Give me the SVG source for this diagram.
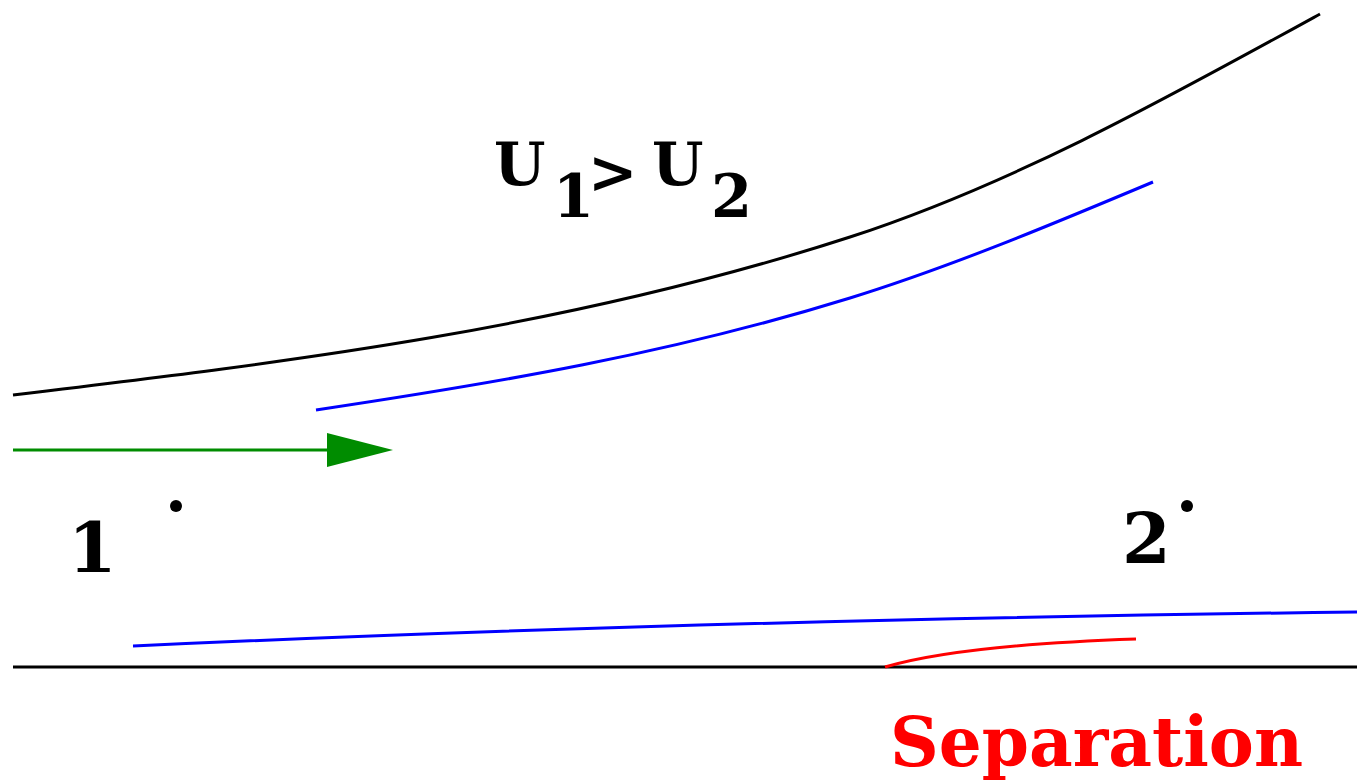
<svg xmlns="http://www.w3.org/2000/svg" width="1357" height="782" viewBox="0 0 1357 782">
<style>
.lbl{font-family:"DejaVu Serif","Liberation Serif",serif;font-weight:bold;fill:#000}
.ln{fill:none;stroke-width:3}
</style>
<defs>
<marker id="ah" markerUnits="userSpaceOnUse" markerWidth="70" markerHeight="40" refX="53" refY="17" orient="auto">
<path d="M0,0 L66,17 L0,34 Z" fill="#008c00"/>
</marker>
</defs>
<rect width="1357" height="782" fill="#fff"/>
<g id="connectors">
<path id="wall-top" class="ln" stroke="#000" d="M13,395 C293,361.4 570,328 850,237 C1010,185 1160,102 1320,14"/>
<path id="bl-top" class="ln" stroke="#0000ff" d="M316,410 C496,383 670,353.8 850,298 C950,267 1053,224 1153,182"/>
<path id="wall-bottom" class="ln" stroke="#000" d="M13,667 L1357,667"/>
<path id="bl-bottom" class="ln" stroke="#0000ff" d="M133,646 Q700,620 1357,612"/>
<path id="sep" class="ln" stroke="#ff0000" d="M885,667 Q960,645 1136,639"/>
<line id="flow" x1="13" y1="450" x2="380" y2="450" stroke="#008c00" stroke-width="3" marker-end="url(#ah)"/>
</g>
<g id="label-u">
<text class="lbl" font-size="59"><tspan x="494" y="185">U</tspan><tspan x="553" y="217">1</tspan><tspan x="588" y="193">&gt;</tspan><tspan x="652" y="185">U</tspan><tspan x="711" y="217">2</tspan></text>
</g>
<g id="point-1">
<text class="lbl" font-size="70" x="68" y="572">1</text>
<circle cx="176" cy="506" r="6" fill="#000"/>
</g>
<g id="point-2">
<text class="lbl" font-size="70" x="1122" y="563">2</text>
<circle cx="1187" cy="506" r="6" fill="#000"/>
</g>
<g id="label-sep">
<text class="lbl" font-size="70" x="890" y="766" textLength="413" lengthAdjust="spacingAndGlyphs" style="fill:#ff0000">Separation</text>
</g>
</svg>
